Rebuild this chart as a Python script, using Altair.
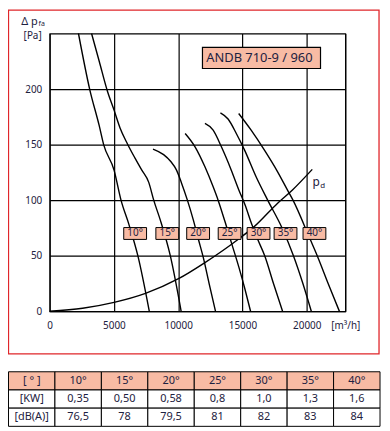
import altair as alt
import pandas as pd

# ---------------- data ----------------
x_ticks = [0, 5000, 10000, 15000, 20000, 23000]
y_ticks = [0, 50, 100, 150, 200]
x_unit = "[m³/h]"
y_unit = "[Pa]"

c10_x = [2240, 3110, 3855, 4200, 5010, 5550, 6170, 6860, 7750]
c10_y = [250, 200, 167, 150, 127, 100, 78, 50, 0]
c15_x = [3260, 3855, 4495, 5010, 5475, 6035, 6630, 7170, 7710, 8095, 8610, 9385, 10230]
c15_y = [250, 225, 198, 181, 165, 151, 138, 127, 116, 100, 82, 50, 0]
c20_x = [8040, 8865, 9405, 9870, 10255, 10715, 11180, 11565, 11950, 12415, 12900]
c20_y = [146, 141, 135, 127, 115.5, 100, 82, 65, 48.5, 24.5, 0]
c25_x = [10540, 11310, 12080, 12720, 13105, 13645, 14185, 14725, 15190, 15630]
c25_y = [160, 148, 130, 112, 100, 80.5, 60, 39.5, 20, 0]
c30_x = [12080, 12720, 13360, 14130, 14725, 15190, 15730, 16190, 16730, 17425, 18120]
c30_y = [169, 163, 148, 127, 109, 96, 78, 64.5, 50, 24.5, 0]
c35_x = [13285, 13880, 14520, 15165, 16060, 16960, 18080, 18965, 19700, 20355]
c35_y = [178.5, 173, 160, 145, 121, 100, 75, 50, 25, 0]
c40_x = [14705, 15675, 16710, 17735, 18505, 18930, 20275, 20815, 21665, 22540]
c40_y = [178, 163, 145, 125.5, 109, 100, 64.5, 50, 25, 0]
pd_x = [0, 2565, 5010, 7455, 10025, 12080, 14650, 15935, 17735, 18890, 20430]
pd_y = [0, 2.7, 8.0, 16.1, 29.3, 43.8, 64.6, 76.4, 97.3, 109.2, 127.7]

angle_labels = ["10°", "15°", "20°", "25°", "30°", "35°", "40°"]
angle_label_x = [6650, 9150, 11550, 14000, 16250, 18350, 20600]
angle_label_y = [70, 70, 70, 70, 70, 70, 70]

title_text = "ANDB 710-9 / 960"
title_box_x, title_box_y = 16480, 228
title_text_x = 12180

table_header = ["[ ° ]", "10°", "15°", "20°", "25°", "30°", "35°", "40°"]
table_kw = ["[KW]", "0,35", "0,50", "0,58", "0,8", "1,0", "1,3", "1,6"]
table_db = ["[dB(A)]", "76,5", "78", "79,5", "81", "82", "83", "84"]

# ---------------- styling ----------------
FONT = "Noto Sans"
TXT = "#1d2140"
SALMON = "#F8BBA4"
RED = "#E0262A"

curve_sets = [("10", c10_x, c10_y), ("15", c15_x, c15_y), ("20", c20_x, c20_y),
              ("25", c25_x, c25_y), ("30", c30_x, c30_y), ("35", c35_x, c35_y),
              ("40", c40_x, c40_y), ("pd", pd_x, pd_y)]
rows = []
for name, xs, ys in curve_sets:
    for x, y in zip(xs, ys):
        rows.append({"curve": name, "x": x, "y": y})
curves_df = pd.DataFrame(rows)

xscale = alt.Scale(domain=[0, 23000], nice=False, zero=False)
yscale = alt.Scale(domain=[0, 250], nice=False, zero=False)

x_axis = alt.Axis(values=x_ticks, title=None, grid=True, ticks=False, domain=False,
                  labelExpr=f"datum.value == 23000 ? '{x_unit}' : format(datum.value, 'd')",
                  labelFlush=False, labelOverlap=False, labelPadding=9)
y_axis = alt.Axis(values=y_ticks, title=None, grid=True, ticks=False, domain=False,
                  labelExpr="format(datum.value, 'd')",
                  labelFlush=False, labelOverlap=False, labelPadding=8)

lines = alt.Chart(curves_df).mark_line(color="black", strokeWidth=1.4, interpolate="monotone").encode(
    x=alt.X("x:Q", scale=xscale, axis=x_axis),
    y=alt.Y("y:Q", scale=yscale, axis=y_axis),
    detail="curve:N",
)

lab_df = pd.DataFrame({"t": angle_labels, "x": angle_label_x, "y": angle_label_y})
lab_boxes = alt.Chart(lab_df).mark_point(
    shape="M-1,-0.52H1V0.52H-1Z", filled=True, fill=SALMON, stroke="black",
    strokeWidth=1, size=529, opacity=1).encode(x="x:Q", y="y:Q")
lab_text = alt.Chart(lab_df).mark_text(font=FONT, fontSize=10, color=TXT).encode(
    x="x:Q", y="y:Q", text="t:N")

title_df = pd.DataFrame({"t": [title_text], "bx": [title_box_x], "tx": [title_text_x], "y": [title_box_y]})
title_box = alt.Chart(title_df).mark_point(
    shape="M-1,-0.179H1V0.179H-1Z", filled=True, fill=SALMON, stroke="black",
    strokeWidth=1.2, size=14161, opacity=1).encode(x="bx:Q", y="y:Q")
title_txt = alt.Chart(title_df).mark_text(font=FONT, fontSize=13, color=TXT, align="left").encode(
    x="tx:Q", y="y:Q", text="t:N")

ann_df = pd.DataFrame({
    "t": ["Δ p", "fa", y_unit, "p", "d"],
    "x": [-925, -860, -620, 20740, 21240],
    "y": [260.4, 258.2, 247.4, 116.0, 112.3],
    "size": [11, 7, 10, 12, 8],
    "align": ["right", "left", "right", "center", "center"],
})
ann_parts = []
for _, r in ann_df.iterrows():
    ann_parts.append(
        alt.Chart(pd.DataFrame([r])).mark_text(font=FONT, fontSize=int(r["size"]), color=TXT,
                                               align=r["align"]).encode(x="x:Q", y="y:Q", text="t:N"))

plot = alt.layer(lines, lab_boxes, lab_text, title_box, title_txt, *ann_parts)

# ---------------- table ----------------
cols = [f"c{i}" for i in range(8)]
trows = []
for rname, vals in [("r0", table_header), ("r1", table_kw), ("r2", table_db)]:
    for c, v in zip(cols, vals):
        trows.append({"col": c, "row": rname, "t": v, "fill": SALMON if rname == "r0" else "white"})
tdf = pd.DataFrame(trows)

tx = alt.X("col:N", sort=cols, axis=None,
           scale=alt.Scale(range=[-41.5, 333], paddingInner=0, paddingOuter=0))
ty = alt.Y("row:N", sort=["r0", "r1", "r2"], axis=None,
           scale=alt.Scale(range=[341, 396], paddingInner=0, paddingOuter=0))
cells = alt.Chart(tdf).mark_rect(stroke="black", strokeWidth=1).encode(
    x=tx, y=ty, color=alt.Color("fill:N", scale=None))
ctext = alt.Chart(tdf).mark_text(font=FONT, fontSize=11, color=TXT).encode(x=tx, y=ty, text="t:N")

frame = alt.Chart(pd.DataFrame({"a": [1]})).mark_rect(
    fillOpacity=0, stroke=RED, strokeWidth=1.3).encode(
    x=alt.value(-41.5), x2=alt.value(332), y=alt.value(-23.5), y2=alt.value(323))

table = alt.layer(cells, ctext, frame)

chart = alt.layer(plot, table).resolve_scale(x="independent", y="independent").properties(
    width=298, height=280,
    autosize=alt.AutoSizeParams(type="none"),
    padding={"left": 42, "top": 24, "right": 37, "bottom": 117},
    background="white",
).configure_view(stroke="black", strokeWidth=1.2).configure_axis(
    gridColor="black", gridWidth=1.2, gridOpacity=1,
    labelFont=FONT, labelFontSize=10, labelColor=TXT,
)

chart.save("out.html", embed_options={"renderer": "svg", "actions": False})
